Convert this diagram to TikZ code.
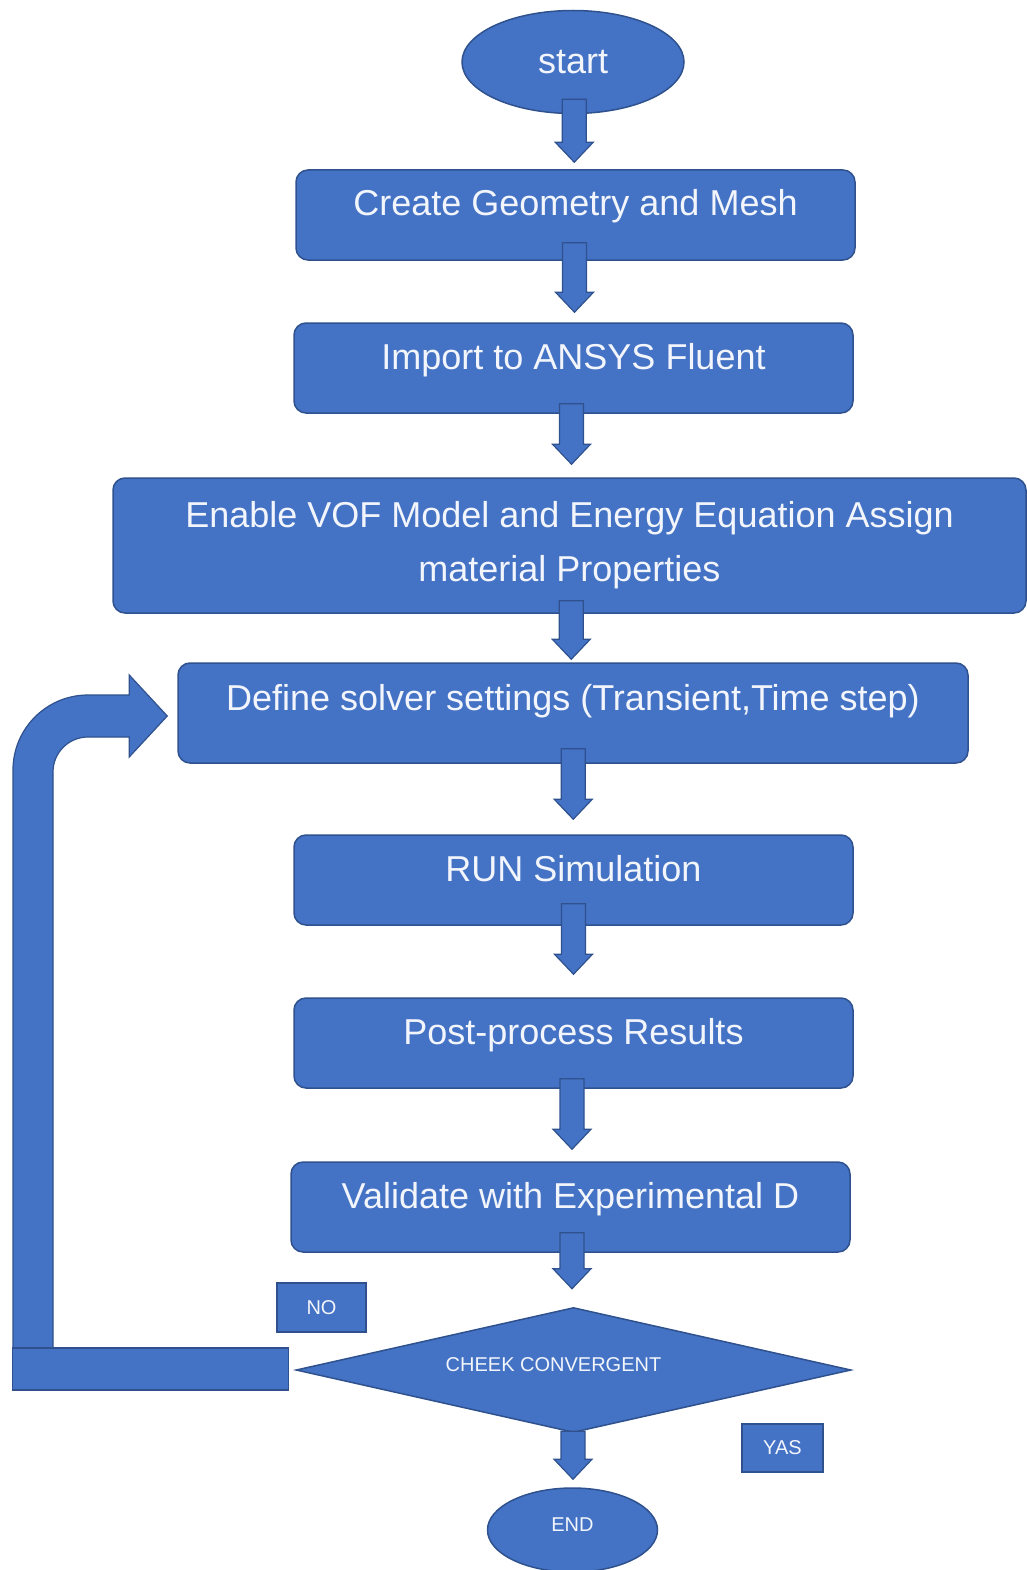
\documentclass[tikz,border=0pt]{standalone}
\usepackage{fontspec}
\setmainfont{Liberation Sans}
\usetikzlibrary{shapes.geometric, calc}

\definecolor{boxblue}{HTML}{4472C4}
\definecolor{edgeblue}{HTML}{2F528F}
\definecolor{textwhite}{HTML}{F2F5FB}

\newcommand\bigfont{\fontsize{36}{54}\selectfont}
\newcommand\smallfont{\fontsize{20}{24}\selectfont}

% Block arrow sizes
\def\shaftw{12}
\def\headw{19}
\def\headl{20}

% block arrow from node #1 (starting #3 inside it) to node #2 (stopping #4 short of it)
\newcommand\flowarrow[4]{%
  \coordinate (mid) at ($(#1.south)!0.5!(#2.north)$);
  \draw[blockarrow]
    ($(#1.south -| mid)+(-\shaftw,-#3)$) -- ($(#2.north -| mid)+(-\shaftw,-#4-\headl)$)
    -- ($(#2.north -| mid)+(-\headw,-#4-\headl)$) -- ($(#2.north -| mid)+(0,-#4)$)
    -- ($(#2.north -| mid)+(\headw,-#4-\headl)$) -- ($(#2.north -| mid)+(\shaftw,-#4-\headl)$)
    -- ($(#1.south -| mid)+(\shaftw,-#3)$) -- cycle;
}

\begin{document}
\begin{tikzpicture}[
    x=1pt, y=-1pt,
    base/.style={draw=edgeblue, line width=1.5pt, fill=boxblue, text=textwhite, inner sep=0pt},
    process/.style={base, rectangle, rounded corners=12pt, font=\bigfont,
        minimum width=559pt, minimum height=90pt, text height=30pt, text depth=28pt},
    terminal/.style={base, ellipse},
    decision/.style={base, diamond, aspect=4.44, font=\smallfont,
        minimum width=555pt, minimum height=125pt, text height=14pt, text depth=12pt},
    tag/.style={base, rectangle, font=\smallfont},
    blockarrow/.style={draw=edgeblue, line width=1.2pt, fill=boxblue, line join=miter}
]

\useasboundingbox (0,0) rectangle (1027,1570);

% ===== Steps =====
\node[terminal, font=\bigfont, minimum width=222pt, minimum height=103pt] (start) at (573,62) {start};
\node[process] (geom) at (575.5,215) {Create Geometry and Mesh};
\node[process] (import) at (573.5,368) {Import to ANSYS Fluent};
\node[process, minimum width=913pt, minimum height=135pt, text height=, text depth=, align=center]
    (enable) at (569.5,545.5) {Enable VOF Model and Energy Equation Assign\\material Properties};
\node[process, minimum width=790pt, minimum height=100pt, text height=28pt, text depth=34pt]
    (define) at (573,713) {Define solver settings (Transient,Time step)};
\node[process] (run) at (573.5,880) {RUN Simulation};
\node[process] (post) at (573.5,1043) {Post-process Results};
\node[process] (valid) at (570.5,1207) {Validate with Experimental D};
\node[decision] (check) at (573.5,1370) {CHEEK CONVERGENT\hspace*{40pt}};
\node[terminal, font=\smallfont, minimum width=170pt, minimum height=84pt,
    text height=14pt, text depth=12pt] (stop) at (572.5,1530) {END};

% ===== Answers =====
\node[tag, minimum width=89pt, minimum height=49pt] (no) at (321.5,1307.5) {NO};
\node[tag, minimum width=81pt, minimum height=48pt] (yes) at (782.5,1448) {YAS};

% ===== Arrows =====
\flowarrow{start}{geom}{15}{7}
\flowarrow{geom}{import}{18}{10}
\flowarrow{import}{enable}{10}{13}
\flowarrow{enable}{define}{13}{3}
\flowarrow{define}{run}{15}{15}
\flowarrow{run}{post}{22}{23}
\flowarrow{post}{valid}{10}{12}
\flowarrow{valid}{check}{20}{18}
\flowarrow{check}{stop}{2}{8}

% ===== Loop back (NO) =====
\coordinate (looptip) at ($(define.west)+(-10,3)$);
\coordinate (loopfoot) at ($(check.west)+(-7,0)$);
\draw[blockarrow]
    (13,1360) -- (13,770) arc[start angle=180, end angle=90, radius=75pt]
    -- ($(looptip)+(-38,-21)$) -- ($(looptip)+(-38,-41)$) -- (looptip)
    -- ($(looptip)+(-38,41)$) -- ($(looptip)+(-38,21)$) -- (88,737)
    arc[start angle=90, end angle=180, radius=35pt] -- (53,1360) -- cycle;
\draw[blockarrow] ($(loopfoot)+(-276,-22)$) rectangle ($(loopfoot)+(0,20)$);

\end{tikzpicture}
\end{document}
